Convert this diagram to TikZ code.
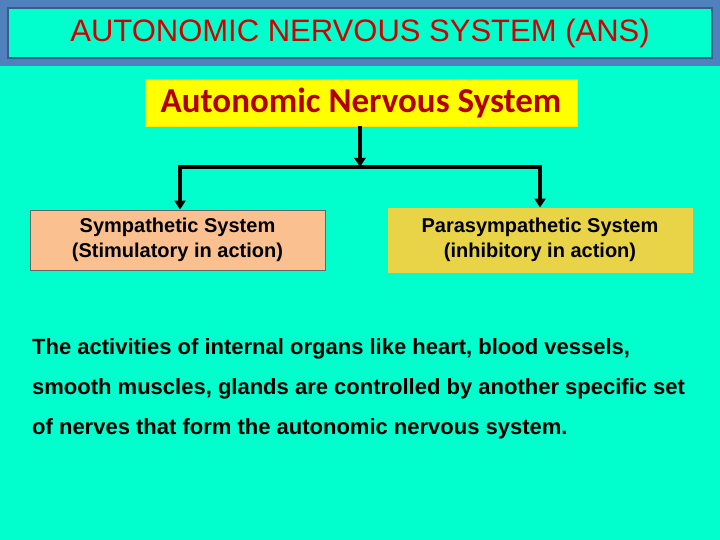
\documentclass[tikz,border=0pt]{standalone}
\usepackage{fontspec}
\setmainfont{Liberation Sans}
\newfontfamily\calib{Carlito}
\usetikzlibrary{arrows.meta}
\definecolor{bg}{RGB}{0,255,204}
\definecolor{band}{RGB}{79,129,189}
\definecolor{bandd}{RGB}{56,93,138}
\definecolor{ttl}{RGB}{210,0,0}
\definecolor{ylw}{RGB}{255,255,0}
\definecolor{peach}{RGB}{250,192,143}
\definecolor{gold}{RGB}{232,212,70}
\begin{document}
\begin{tikzpicture}[x=1pt,y=-1pt,
  box/.style={draw=gray!80!black,line width=0.8pt,align=center,inner sep=0pt,font=\bfseries\fontsize{20}{25}\selectfont},
  arr/.style={line width=3.5pt,-{Triangle[length=9pt,width=11pt]}}]
\useasboundingbox (0,0) rectangle (720,540);
\fill[bg] (0,0) rectangle (720,540);
\fill[band] (0,0) rectangle (720,66);
\draw[bandd,line width=2pt,fill=bg] (8,8) rectangle (712,58);
\node[text=ttl,font=\fontsize{31}{36}\selectfont] (t) at (360,33) {AUTONOMIC NERVOUS SYSTEM (ANS)};
\node[fill=ylw,draw=ylw!80!orange,minimum width=432pt,minimum height=47pt,inner sep=0pt,text=ttl!85!black,font=\calib\bfseries\fontsize{35}{40}\selectfont] (ans) at (361,102.5) {Autonomic Nervous System};
\node[box,fill=peach,minimum width=295pt,minimum height=60pt] (sym) at (177.5,240) {Sympathetic System\\(Stimulatory in action)};
\node[box,fill=gold,draw=gold,minimum width=304pt,minimum height=64pt] (para) at (540,240) {Parasympathetic System\\(inhibitory in action)};
\coordinate (j) at (360,167);
\draw[arr] (ans.south -| j) -- (j);
\draw[line width=3.5pt] (178.25,167) -- (541.75,167);
\draw[arr] (180,167) -- (sym.north -| 180,0);
\draw[arr] (540,167) -- (para.north -| 540,0);
\node[anchor=north west,align=left,font=\bfseries\fontsize{22}{40}\selectfont,inner sep=0pt] (p) at (32,338)
{The activities of internal organs like heart, blood vessels,\\smooth muscles, glands are controlled by another specific set\\of nerves that form the autonomic nervous system.};
\end{tikzpicture}
\end{document}
